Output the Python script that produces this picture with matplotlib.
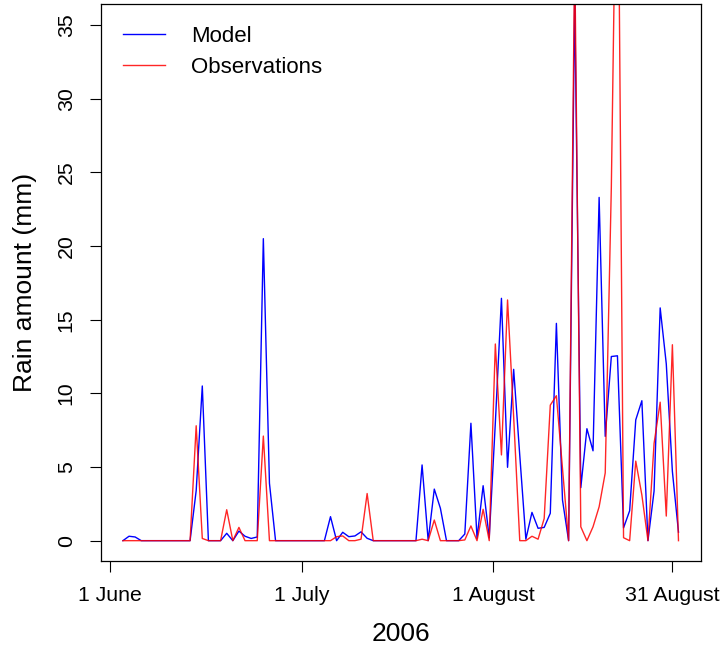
import numpy as np
import matplotlib
matplotlib.use('Agg')
import matplotlib.pyplot as plt

plt.rcParams['font.family'] = ['Liberation Sans', 'DejaVu Sans']

# daily rain, 1 June - 31 August 2006 (mm)
model = [0, 0.3, 0.25, 0, 0, 0, 0, 0, 0, 0,
         0, 0, 3.4, 10.5, 0, 0, 0, 0.5, 0, 0.65,
         0.3, 0.15, 0.25, 20.5, 3.9, 0, 0, 0, 0, 0,
         0, 0, 0, 0, 1.63, 0, 0.57, 0.27, 0.32, 0.6,
         0.16, 0, 0, 0, 0, 0, 0, 0, 0, 5.14,
         0, 3.5, 2.2, 0, 0, 0, 0.45, 7.97, 0.16, 3.73,
         0.2, 8.0, 16.45, 4.98, 11.63, 5.8, 0.1, 1.92, 0.84, 0.9,
         1.86, 14.75, 2.76, 0, 37, 3.6, 7.6, 6.1, 23.3, 7.08,
         12.5, 12.55, 0.87, 2.03, 8.2, 9.5, 0, 3.37, 15.8, 12.0,
         4.7, 0.58]

observations = [0, 0, 0, 0, 0, 0, 0, 0, 0, 0,
                0, 0, 7.8, 0.15, 0, 0, 0, 2.1, 0, 0.9,
                0, 0, 0, 7.1, 0, 0, 0, 0, 0, 0,
                0, 0, 0, 0, 0, 0.27, 0.32, 0, 0, 0.1,
                3.2, 0, 0, 0, 0, 0, 0, 0, 0, 0.1,
                0, 1.4, 0, 0, 0, 0, 0.05, 1.0, 0, 2.13,
                0, 13.35, 5.82, 16.34, 8.4, 0, 0, 0.3, 0.1, 1.5,
                9.2, 9.84, 4.9, 0, 40, 0.94, 0, 0.94, 2.3, 4.6,
                24, 53, 0.2, 0, 5.4, 3.1, 0, 6.6, 9.4, 1.67,
                13.3, 0]

date_ticks = [-2.07, 29.28, 60.67, 89.99]
date_labels = ['1 June', '1 July', '1 August', '31 August']
rain_ticks = [0, 5, 10, 15, 20, 25, 30, 35]

days = np.arange(len(model))

fig = plt.figure(figsize=(7.25, 6.51), dpi=100)
ax = fig.add_axes([0.1389, 0.1378, 0.8276, 0.8554])

ax.plot(days, model, color='blue', lw=1.0, label='Model')
ax.plot(days, observations, color='red', lw=1.0, alpha=0.85, label='Observations')

# R style 4% padding on x, ylim = c(0, 35)
n = len(days)
ext = 0.04 * (n - 1)
ax.set_xlim(-ext, n - 1 + ext)
ax.set_ylim(-1.4, 36.4)

ax.set_xticks(date_ticks)
ax.set_xticklabels(date_labels)
ax.set_yticks(rain_ticks)
ax.set_yticklabels([str(v) for v in rain_ticks], rotation=90, va='center')

ax.tick_params(direction='out', length=8, width=0.8, labelsize=15.3, pad=10)
for s in ax.spines.values():
    s.set_linewidth(0.9)
    s.set_color('black')

ax.set_xlabel('2006', fontsize=19, labelpad=12)
ax.set_ylabel('Rain amount (mm)', fontsize=19, labelpad=14)

ax.legend(loc='upper left', bbox_to_anchor=(0.037, 0.961), frameon=False,
          fontsize=16, handlelength=1.9, handletextpad=1.15, borderpad=0,
          borderaxespad=0, labelspacing=0.45)

plt.savefig('out.png', dpi=100)
